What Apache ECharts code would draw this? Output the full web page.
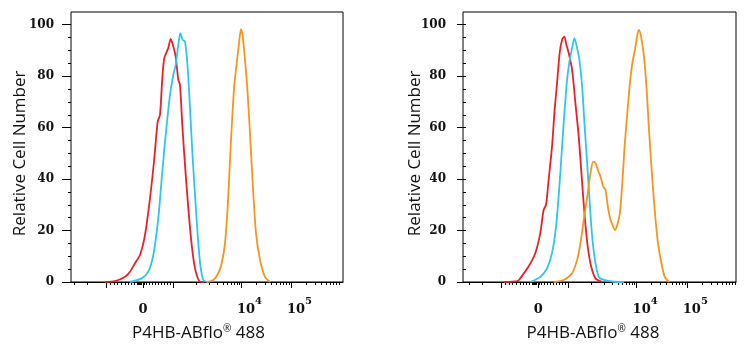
<!DOCTYPE html>
<html><head><meta charset="utf-8">
<script src="https://cdn.jsdelivr.net/npm/echarts@6/dist/echarts.min.js"></script>
<style>html,body{margin:0;padding:0;background:#fff}#c{width:748px;height:350px}</style>
</head><body><div id="c"></div>
<script>
// x values are in display channels of the biexponential axis, y = relative cell number
const leftRed = [[34,0],[44,0.3],[54,2],[59,4],[64,7.3],[69,10.5],[74,18.3],[79,32.5],[83.3,48],[86.7,62.3],[89,65],[91.3,79.2],[93.3,87],[97.3,91],[99.7,94.5],[102.3,91.5],[104.7,87.6],[107.3,78.6],[109,76.6],[111.3,61],[114,45.5],[117.3,28.7],[120.7,14.4],[124,5.3],[129,0.1],[133,0]];
const leftCyan = [[59,0],[70.7,1.4],[77.3,4],[82.3,10.5],[87.3,24.8],[91.3,42.9],[94.7,57.2],[99,72.7],[102.3,80.5],[104.7,84.4],[107.3,92.2],[109.3,96.7],[111.7,94.1],[114,93.5],[116.7,83.1],[119,67.6],[121.3,50.7],[124,33.8],[126.7,18.3],[129.3,6.6],[132.3,0.8],[135.7,0]];
const leftOrange = [[135.7,0],[142.3,0.8],[147.3,3.4],[150.7,7.3],[154,15],[156.7,29.3],[159,47.5],[161.3,64.3],[163.3,76.6],[165.7,85],[168,92.8],[170,98.3],[171.7,95.4],[174,86.3],[176.3,75.3],[179,57.8],[181.7,38.4],[185,19],[189,8.6],[194,2],[199,0]];
const rightRed = [[38,0],[51.3,0.3],[54,1.4],[62.3,6],[69,11.2],[74,19],[77.3,28],[79.7,30],[82.3,39.7],[85.7,52.6],[88.3,66.9],[90.7,77.3],[93.3,89],[95.7,94.1],[98,95.4],[100,92.2],[102.3,89],[105.7,82.5],[109,69.5],[112.3,56.5],[115,42.3],[118,26.7],[121.3,13.7],[124.7,6],[129,1.4],[135.7,0]];
const rightCyan = [[64,0],[74,2],[80.7,5.3],[85.7,11.2],[89.7,21.5],[93,37],[95.7,52.6],[98,65.6],[100.7,78.6],[103.3,86.3],[105.7,90.9],[108,94.8],[110.7,90.9],[113,86.3],[115.7,76],[118,61.7],[120.7,46.2],[123.3,30.6],[125.7,17.6],[129,7.3],[132.3,2],[137.3,0.8],[147.3,0.1],[157.3,0]];
const rightOrange = [[87.3,0],[97.3,0.8],[105.7,3.4],[110.7,8.6],[114,15],[117.3,24.1],[121.3,34.5],[124,42.3],[126.7,46.8],[129,46.2],[131.3,43.6],[134,41],[136.7,37.1],[139,35.8],[141.3,29.3],[144,24.1],[146.7,21.5],[148.3,20.2],[150.7,22.2],[153.3,26.7],[155.7,38.4],[158,52.6],[160.7,65.6],[163.3,77.3],[165.7,85],[168.3,90.2],[170.7,96.1],[172.3,98],[174.7,94.8],[177.3,87.6],[180,74.7],[182.3,59.1],[185,43.6],[188,28],[191.3,15],[194.7,7.3],[198,2],[202.3,0]];

// axis tick values (channels) and tick labels
const majorTicks = [35,72,102,170,220];
const minorTicks = [3,16,39,43,46,50,54,57,60,63,66,67,68,69,70,73,75,78,81,84,87,90,93,96,99,125,138,146,152,156,160,163,166,168,185,194,200,205,209,212,215,218,235,244,250,255,259,262,265,268];
const labelTicks = [72,170,220];
const labelBase = ['0','10','10'];
const labelExp = ['','4','5'];
const xTitleMain = 'P4HB-ABflo';
const xTitleMark = '®';
const xTitleTail = ' 488';
const yTitle = 'Relative Cell Number';
const seriesNames = ['Control','Isotype','P4HB'];

const colors = ['#e8202a','#2bc6ee','#f7941d'];
const serifFont = 'DejaVu Serif';
const sansFont = 'Open Sans';

const panels = [
  {left:71, width:272, xmin:0, data:[leftRed,leftCyan,leftOrange], titleShift:17, yGap:42},
  {left:463, width:273, xmin:-3, data:[rightRed,rightCyan,rightOrange], titleShift:13, yGap:39}
];
const SPAN = 272;
const FRAME_TOP = 12, BOTTOM = 68, DATA_TOP = 24.7;

const grid = [], xAxis = [], yAxis = [], series = [];
panels.forEach((p, pi) => {
  const fg = grid.length;
  grid.push({left:p.left, width:p.width, top:FRAME_TOP, bottom:BOTTOM, show:true, borderColor:'#000', borderWidth:1, backgroundColor:'transparent'});
  xAxis.push({gridIndex:fg, type:'value', show:false, min:0, max:1});
  yAxis.push({gridIndex:fg, type:'value', show:false, min:0, max:1});
  const dg = grid.length;
  grid.push({left:p.left, width:p.width, top:DATA_TOP, bottom:BOTTOM});
  const cats = [];
  for (let i = 0; i <= SPAN; i++) cats.push(String(p.xmin + i));
  const valX = xAxis.length;
  xAxis.push({gridIndex:dg, type:'value', min:p.xmin, max:p.xmin + SPAN, show:false, position:'bottom'});
  xAxis.push({
    gridIndex:dg, type:'category', data:cats, boundaryGap:false, position:'bottom', offset:0,
    axisLine:{show:true, lineStyle:{color:'#000', width:1}},
    axisTick:{show:true, length:6, lineStyle:{color:'#000', width:1}, interval:(i, v) => majorTicks.includes(Number(v))},
    axisLabel:{show:true, margin:21, color:'#111', fontFamily:serifFont, fontWeight:'bold', fontSize:13,
      interval:(i, v) => labelTicks.includes(Number(v)),
      formatter:(v) => {
        const k = labelTicks.indexOf(Number(v));
        if (k < 0) return '';
        if (!labelExp[k]) return '{b|' + labelBase[k] + '}';
        return '{p|' + labelBase[k] + '}{s|' + labelExp[k] + '}';
      },
      rich:{
        b:{fontFamily:serifFont, fontWeight:'bold', fontSize:13, lineHeight:13, color:'#111', padding:[7,0,7,0], verticalAlign:'middle'},
        p:{fontFamily:serifFont, fontWeight:'bold', fontSize:13, lineHeight:13, color:'#111', padding:[0,0,0,17], verticalAlign:'middle'},
        s:{fontFamily:serifFont, fontWeight:'bold', fontSize:10, lineHeight:10, color:'#111', padding:[0,0,17,0], verticalAlign:'middle'}
      }
    },
    splitLine:{show:false},
    name:xTitleMain + '{r|' + xTitleMark + '}' + xTitleTail, nameLocation:'middle', nameGap:43, nameMoveOverlap:false,
    nameTextStyle:{fontFamily:sansFont, fontSize:17, color:'#111', padding:[0,p.titleShift,0,0],
      rich:{r:{fontFamily:sansFont, fontSize:10, color:'#111', lineHeight:10, padding:[0,0,8,0], verticalAlign:'middle'}}}
  });
  xAxis.push({
    gridIndex:dg, type:'category', data:cats, boundaryGap:false, position:'bottom', offset:0,
    axisLine:{show:false},
    axisTick:{show:true, length:3, lineStyle:{color:'#000', width:1}, interval:(i, v) => minorTicks.includes(Number(v))},
    axisLabel:{show:false}, splitLine:{show:false}
  });
  const yi = yAxis.length;
  yAxis.push({
    gridIndex:dg, type:'value', min:0, max:100, interval:20,
    axisLine:{show:false},
    axisTick:{show:true, length:9, lineStyle:{color:'#000', width:1}},
    minorTick:{show:true, splitNumber:4, length:3, lineStyle:{color:'#000', width:1}},
    axisLabel:{margin:17, color:'#111', fontFamily:serifFont, fontWeight:'bold', fontSize:12},
    splitLine:{show:false},
    name:yTitle, nameLocation:'middle', nameGap:p.yGap, nameMoveOverlap:false,
    nameTextStyle:{fontFamily:sansFont, fontSize:17, color:'#111'}
  });
  p.data.forEach((d, si) => {
    series.push({
      type:'line', name:seriesNames[si], xAxisIndex:valX, yAxisIndex:yi, data:d,
      showSymbol:false, symbol:'none', smooth:0.25, animation:false,
      lineStyle:{color:colors[si], width:1.8}, itemStyle:{color:colors[si]}, z:3 + si
    });
  });
});

const chart = echarts.init(document.getElementById('c'), null, {renderer:'canvas'});
chart.setOption({animation:false, backgroundColor:'#fff', grid, xAxis, yAxis, series});
</script>
</body></html>
